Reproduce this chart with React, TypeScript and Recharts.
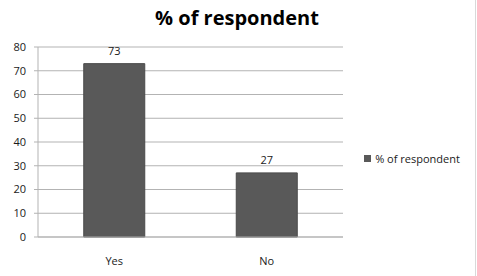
import React from "react";
import {
    BarChart,
    Bar,
    CartesianGrid,
    XAxis,
    YAxis,
    Legend,
    LabelList,
} from "recharts";

const categories = ["Yes", "No"];
const respondentPct = [73, 27];
const yTicks = [0, 10, 20, 30, 40, 50, 60, 70, 80];

const data = categories.map((name, i) => ({ name, pct: respondentPct[i] }));

const FONT = "'Open Sans', 'Liberation Sans', sans-serif";
const GRID = "#b3b3b3";
const TEXT = "#1a1a1a";

const App: React.FC = () => {
    return (
        <div
            style={{
                position: "absolute",
                left: 0,
                top: 0,
                width: 477,
                height: 276,
                background: "#fff",
                fontFamily: FONT,
            }}
        >
            <div
                style={{
                    position: "absolute",
                    left: 0,
                    top: 4,
                    width: 474,
                    textAlign: "center",
                    fontSize: 20,
                    fontWeight: 700,
                    color: "#000",
                }}
            >
                % of respondent
            </div>
            <div
                style={{
                    position: "absolute",
                    left: 475,
                    top: 0,
                    width: 1,
                    height: 276,
                    background: "#d9d9d9",
                }}
            />
            <BarChart
                width={477}
                height={276}
                data={data}
                margin={{ top: 47, right: 134, bottom: 9, left: 0 }}
                barCategoryGap="30%"
            >
                <CartesianGrid vertical={false} stroke={GRID} />
                <XAxis
                    dataKey="name"
                    axisLine={{ stroke: GRID }}
                    tickLine={false}
                    tick={{ fill: TEXT, fontSize: 11, fontFamily: FONT }}
                    tickMargin={14}
                />
                <YAxis
                    width={38}
                    domain={[0, 80]}
                    ticks={yTicks}
                    interval={0}
                    axisLine={{ stroke: GRID }}
                    tickLine={{ stroke: GRID }}
                    tickSize={4}
                    tickMargin={8}
                    tick={{ fill: TEXT, fontSize: 11, fontFamily: FONT }}
                />
                <Legend
                    layout="horizontal"
                    align="center"
                    verticalAlign="middle"
                    iconType="square"
                    iconSize={7}
                    wrapperStyle={{ left: 362, top: 146, width: 110 }}
                    formatter={(value) => (
                        <span style={{ color: TEXT, fontSize: 11, fontFamily: FONT }}>
                            {value}
                        </span>
                    )}
                />
                <Bar
                    dataKey="pct"
                    name="% of respondent"
                    fill="#595959"
                    stroke="#4a4a4a"
                    isAnimationActive={false}
                >
                    <LabelList
                        dataKey="pct"
                        position="top"
                        offset={9}
                        fill={TEXT}
                        fontSize={11}
                        fontFamily={FONT}
                    />
                </Bar>
            </BarChart>
        </div>
    );
};

export default App;
